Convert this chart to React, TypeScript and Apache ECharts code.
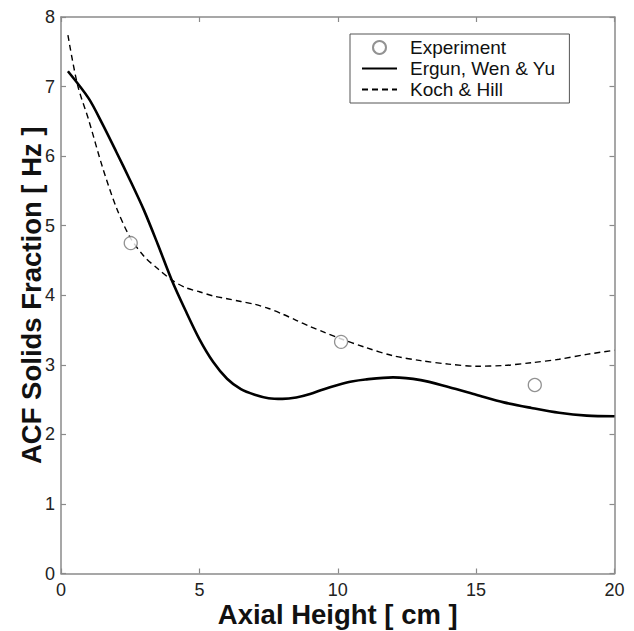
import React, { useEffect, useRef } from "react";
import * as echarts from "echarts";

const experimentX = [2.52, 10.12, 17.12];
const experimentY = [4.75, 3.33, 2.71];

const ergunX = [0.25, 1.0, 1.5, 2.0, 2.5, 3.0, 3.5, 4.0, 4.5, 5.0, 5.5, 6.0, 6.5, 7.0, 7.5, 8.0, 8.5, 9.0, 9.5, 10.0, 10.5, 11.0, 12.0, 13.0, 14.0, 15.0, 16.0, 17.0, 18.0, 19.0, 20.0];
const ergunY = [7.22, 6.83, 6.46, 6.06, 5.65, 5.22, 4.73, 4.22, 3.78, 3.37, 3.04, 2.8, 2.65, 2.57, 2.52, 2.51, 2.53, 2.58, 2.65, 2.71, 2.76, 2.79, 2.82, 2.78, 2.68, 2.57, 2.46, 2.38, 2.31, 2.27, 2.26];

const kochX = [0.25, 0.6, 1.0, 1.5, 2.0, 2.5, 3.0, 3.5, 4.0, 4.5, 5.0, 5.5, 6.0, 6.5, 7.0, 7.5, 8.0, 8.5, 9.0, 9.5, 10.0, 11.0, 12.0, 13.0, 14.0, 15.0, 16.0, 17.0, 18.0, 19.0, 20.0];
const kochY = [7.74, 7.02, 6.52, 5.84, 5.26, 4.83, 4.56, 4.38, 4.22, 4.11, 4.05, 3.99, 3.95, 3.91, 3.87, 3.81, 3.73, 3.64, 3.55, 3.47, 3.39, 3.25, 3.13, 3.06, 3.01, 2.98, 2.99, 3.03, 3.08, 3.15, 3.21];

const seriesNames = ["Experiment", "Ergun, Wen & Yu", "Koch & Hill"];
const xTitle = "Axial Height [ cm ]";
const yTitle = "ACF Solids Fraction [ Hz ]";

const pairs = (xs: number[], ys: number[]) => xs.map((x, i) => [x, ys[i]]);

export default function App() {
  const ref = useRef<HTMLDivElement>(null);
  useEffect(() => {
    if (!ref.current) return;
    const chart = echarts.init(ref.current, undefined, { renderer: "svg" });
    const font = "'Liberation Sans', Arial, sans-serif";
    const axisColor = "#8a8a8a";
    const baseAxis = {
      type: "value" as const,
      axisLine: { show: true, onZero: false, lineStyle: { color: axisColor, width: 1.5 } },
      axisTick: { show: true, inside: true, length: 5, lineStyle: { color: axisColor, width: 1.2 } },
      splitLine: { show: false },
    };
    const hiddenSymbol = { color: "transparent", borderColor: "transparent", borderWidth: 0 };
    chart.setOption({
      animation: false,
      backgroundColor: "#ffffff",
      grid: { left: 61, top: 17, right: 19.5, bottom: 57.5, containLabel: false, outerBoundsMode: "none" },
      legend: {
        left: 350,
        top: 34,
        orient: "vertical",
        data: [
          { name: seriesNames[0], icon: "circle" },
          { name: seriesNames[1], itemStyle: hiddenSymbol },
          { name: seriesNames[2], itemStyle: hiddenSymbol },
        ],
        itemWidth: 35,
        itemHeight: 13,
        itemGap: 2,
        padding: [4, 14, 4, 11],
        borderColor: "#555",
        borderWidth: 1,
        textStyle: { fontFamily: font, fontSize: 19, color: "#111", padding: [0, 0, 0, 8] },
      },
      xAxis: [
        {
          ...baseAxis,
          min: 0,
          max: 20,
          interval: 5,
          position: "bottom",
          name: xTitle,
          nameLocation: "middle",
          nameGap: 27,
          nameMoveOverlap: false,
          nameTextStyle: { fontFamily: font, fontSize: 27.5, lineHeight: 28, fontWeight: "bold", color: "#111", verticalAlign: "top" },
          axisLabel: { fontFamily: font, fontSize: 18, color: "#222", margin: 7 },
        },
        {
          ...baseAxis,
          min: 0,
          max: 20,
          interval: 5,
          position: "top",
          axisLabel: { show: false },
        },
      ],
      yAxis: [
        {
          ...baseAxis,
          min: 0,
          max: 8,
          interval: 1,
          position: "left",
          name: yTitle,
          nameLocation: "middle",
          nameGap: 16,
          nameMoveOverlap: false,
          nameTextStyle: { fontFamily: font, fontSize: 27.5, lineHeight: 28, fontWeight: "bold", color: "#111" },
          axisLabel: { fontFamily: font, fontSize: 18, color: "#222", margin: 6 },
        },
        {
          ...baseAxis,
          min: 0,
          max: 8,
          interval: 1,
          position: "right",
          axisLabel: { show: false },
        },
      ],
      series: [
        {
          name: seriesNames[1],
          type: "line",
          data: pairs(ergunX, ergunY),
          smooth: 0.3,
          showSymbol: false,
          symbol: "none",
          lineStyle: { color: "#000", width: 2.6 },
          itemStyle: { color: "#000" },
          z: 3,
        },
        {
          name: seriesNames[2],
          type: "line",
          data: pairs(kochX, kochY),
          smooth: 0.3,
          showSymbol: false,
          symbol: "none",
          lineStyle: { color: "#000", width: 1.4, type: [6, 4] },
          itemStyle: { color: "#000" },
          z: 3,
        },
        {
          name: seriesNames[0],
          type: "scatter",
          data: pairs(experimentX, experimentY),
          symbol: "circle",
          symbolSize: 13,
          itemStyle: { color: "#ffffff", borderColor: "#777", borderWidth: 1.3 },
          z: 4,
        },
      ],
    });
    return () => chart.dispose();
  }, []);
  return <div ref={ref} style={{ position: "absolute", left: 0, top: 0, width: 634, height: 631 }} />;
}
